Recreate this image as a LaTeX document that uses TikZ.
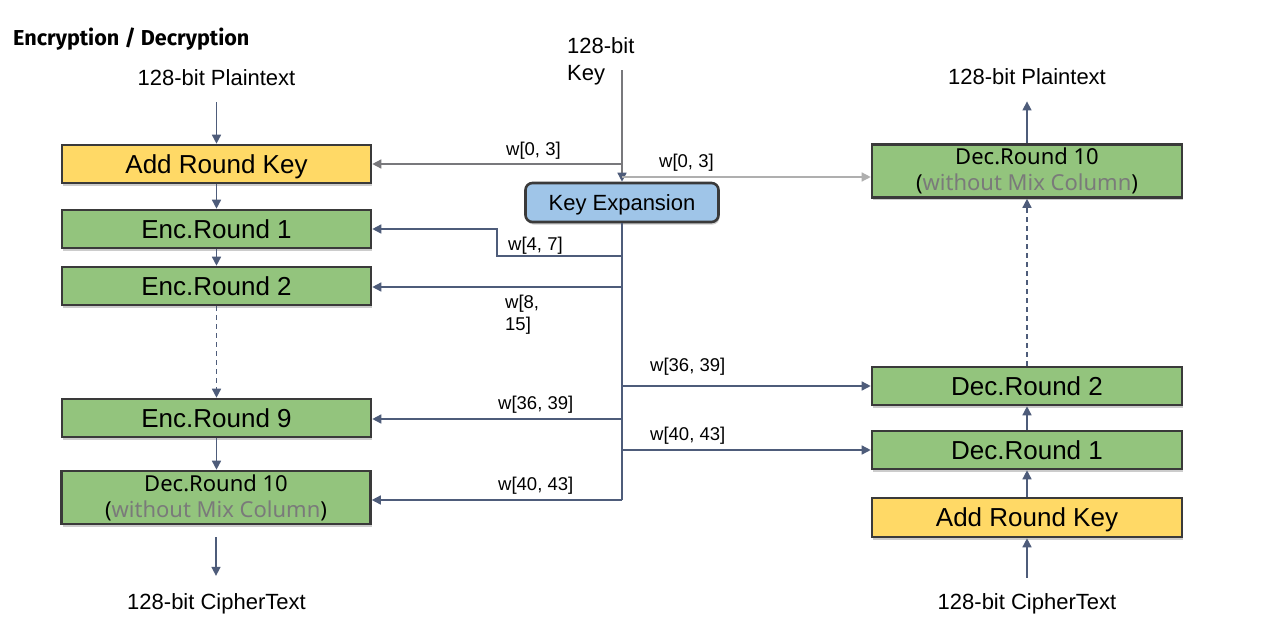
\documentclass[tikz,border=0pt]{standalone}
\usepackage{fontspec}
\setmainfont{Liberation Sans}
\newfontfamily\notosans{Noto Sans}
\newfontfamily\titlefont{Fira Sans}
\usetikzlibrary{arrows.meta,shadows}
\definecolor{arrowc}{RGB}{78,92,122}
\definecolor{grayA}{RGB}{120,120,124}
\definecolor{grayB}{RGB}{175,175,175}
\definecolor{boxborder}{RGB}{58,58,58}
\definecolor{greenbox}{RGB}{147,196,125}
\definecolor{yellowbox}{RGB}{255,217,102}
\definecolor{bluebox}{RGB}{159,197,232}
\definecolor{subtext}{RGB}{122,122,122}
\begin{document}
\begin{tikzpicture}[x=1pt,y=-1pt,
  shadowed/.style={drop shadow={shadow xshift=1pt,shadow yshift=-2.5pt,fill=black,opacity=0.2}},
  box/.style={draw=boxborder,line width=2.6pt,minimum width=309pt,minimum height=38pt,inner sep=0pt,
    font=\fontsize{26}{30}\selectfont,text height=18.6pt,text depth=0pt,shadowed},
  boxtwo/.style={draw=boxborder,line width=2.6pt,minimum width=309pt,minimum height=53pt,inner sep=0pt,
    align=center,font=\notosans\fontsize{22}{26}\selectfont,shadowed},
  arr/.style={draw=arrowc,line width=1.5pt,-{Triangle[width=9pt,length=9pt]}},
  wire/.style={draw=arrowc,line width=1.5pt},
  dashline/.style={dash pattern=on 5pt off 4pt},
  lbl/.style={font=\fontsize{18.5}{22}\selectfont,anchor=base west,inner sep=0pt},
  txt/.style={font=\fontsize{22}{26}\selectfont,anchor=base,inner sep=3pt}
]
\fill[white] (0,0) rectangle (1261,627);
\useasboundingbox (0,0) rectangle (1261,627);

% title
\node[anchor=base west,inner sep=0pt,font=\titlefont\bfseries\fontsize{21.6}{26}\selectfont] (title) at (13,45) {Encryption / Decryption};

% left column
\node[txt] (ptL) at (216.5,85) {128-bit Plaintext};
\node[box,fill=yellowbox] (ark1) at (216.5,164) {Add Round Key};
\node[box,fill=greenbox] (enc1) at (216.5,229) {Enc.Round 1};
\node[box,fill=greenbox] (enc2) at (216.5,286) {Enc.Round 2};
\node[box,fill=greenbox] (enc9) at (216.5,418) {Enc.Round 9};
\node[boxtwo,fill=greenbox] (dec10L) at (216,497.5) {Dec.Round 10\\(\textcolor{subtext}{without Mix Column})};
\node[txt] (ctL) at (216.5,609) {128-bit CipherText};

% right column
\node[txt] (ptR) at (1027,84) {128-bit Plaintext};
\node[boxtwo,fill=greenbox,minimum width=310pt] (dec10R) at (1027,171) {Dec.Round 10\\(\textcolor{subtext}{without Mix Column})};
\node[box,fill=greenbox,minimum width=310pt] (dec2) at (1027,386) {Dec.Round 2};
\node[box,fill=greenbox,minimum width=310pt] (dec1) at (1027,450) {Dec.Round 1};
\node[box,fill=yellowbox,minimum width=310pt,minimum height=39pt] (ark2) at (1027,517.5) {Add Round Key};
\node[txt] (ctR) at (1027,609) {128-bit CipherText};

% key expansion
\node[anchor=base west,inner sep=0pt,font=\fontsize{22}{26}\selectfont] (key1) at (567,53) {128-bit};
\node[anchor=base west,inner sep=0pt,font=\fontsize{22}{26}\selectfont] (key2) at (567,80) {Key};
\node[draw=boxborder,line width=2.6pt,rounded corners=7pt,fill=bluebox,minimum width=193pt,minimum height=39pt,
  inner sep=0pt,font=\fontsize{22}{26}\selectfont,text height=15.8pt,text depth=0pt,shadowed] (kx) at (622,202.5) {Key Expansion};

% coordinates
\coordinate (keyin) at (622,70);
\coordinate (k03L) at (622,164);
\coordinate (k03R) at (622,177);
\coordinate (t47) at (622,256);
\coordinate (b47) at (497,256);
\coordinate (t815) at (622,287);
\coordinate (t36R) at (622,386);
\coordinate (t36L) at (622,419);
\coordinate (t40R) at (622,450);
\coordinate (t40L) at (622,500);

% key connectors
\draw[draw=grayA,line width=1.5pt,-{Triangle[width=9pt,length=9pt,color=arrowc]}] (keyin) -- (kx.north);
\draw[arr,draw=grayA] (k03L) -- (k03L -| ark1.east);
\draw[arr,draw=grayB,line width=1.3pt] (k03R) -- (k03R -| dec10R.west);
\draw[wire] (kx.south) -- (t40L);
\draw[arr] (t47) -- (b47) |- (enc1.east);
\draw[arr] (t815) -- (t815 -| enc2.east);
\draw[arr] (t36L) -- (t36L -| enc9.east);
\draw[arr] (t40L) -- (t40L -| dec10L.east);
\draw[arr] (t36R) -- (t36R -| dec2.west);
\draw[arr] (t40R) -- (t40R -| dec1.west);

% labels
\node[lbl] (l03L) at (506,155) {w[0, 3]};
\node[lbl] (l03R) at (659,167) {w[0, 3]};
\node[lbl] (l47) at (508,250) {w[4, 7]};
\node[lbl] (l815a) at (505,308) {w[8,};
\node[lbl] (l815b) at (505,330) {15]};
\node[lbl] (l36R) at (650,371) {w[36, 39]};
\node[lbl] (l36L) at (498,409) {w[36, 39]};
\node[lbl] (l40R) at (650,440) {w[40, 43]};
\node[lbl] (l40L) at (498,490) {w[40, 43]};

% left flow
\draw[arr,shorten <=14pt] (ptL) -- (ark1);
\draw[arr] (ark1) -- (enc1);
\draw[arr] (enc1) -- (enc2);
\draw[arr,dashline] (enc2) -- (enc9);
\draw[arr] (enc9.south) -- (enc9.south |- dec10L.north);
\draw[arr,shorten <=12pt,shorten >=14pt] (dec10L.south) -- (dec10L.south |- ctL.north);

% right flow
\draw[arr,shorten <=12pt] (ctR.north) -- (ark2.south);
\draw[arr] (ark2) -- (dec1);
\draw[arr] (dec1) -- (dec2);
\draw[arr,dashline] (dec2) -- (dec10R);
\draw[arr,shorten >=14pt] (dec10R.north) -- (ptR.south);
\end{tikzpicture}
\end{document}
